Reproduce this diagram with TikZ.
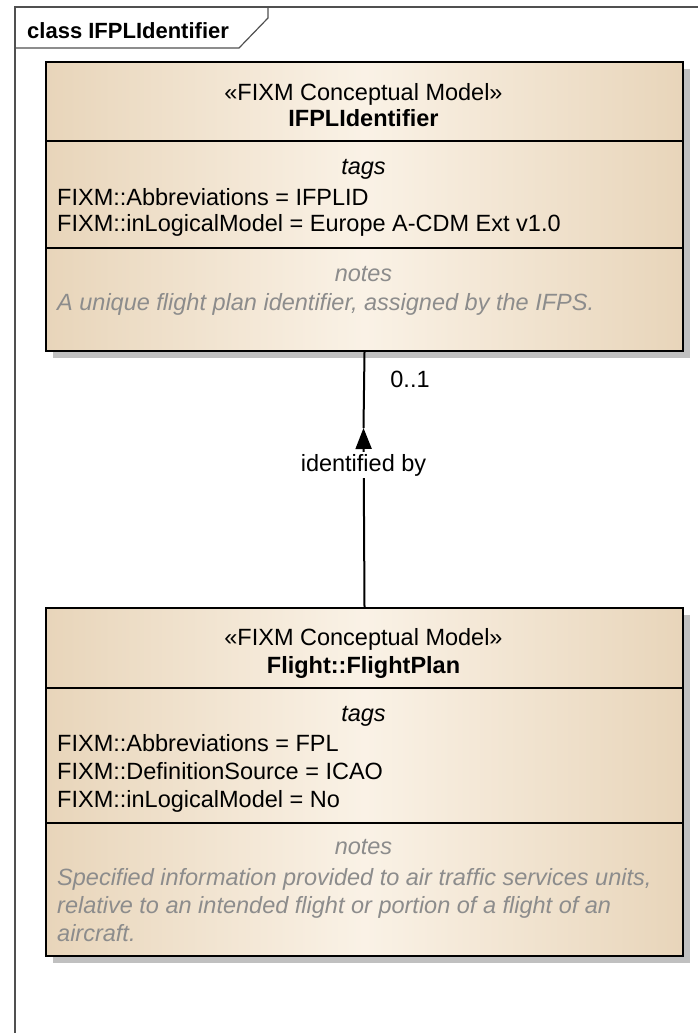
\documentclass[tikz,border=0pt]{standalone}
\usepackage{fontspec}
\setmainfont{Liberation Sans}
\usetikzlibrary{arrows.meta, shadows}

\definecolor{boxtan}{RGB}{232,213,186}
\definecolor{boxcream}{RGB}{250,242,230}
\definecolor{shadowgray}{RGB}{192,192,192}
\definecolor{notegray}{RGB}{140,140,140}
\definecolor{framegray}{RGB}{80,80,80}

\newcommand{\umlfont}{\fontsize{23.5bp}{28bp}\selectfont}

\begin{document}
\begin{tikzpicture}[x=1bp,y=-1bp,
    classbox/.style={draw=black, line width=2bp, inner sep=0pt, anchor=north west,
      minimum width=637bp, left color=boxtan, right color=boxtan, middle color=boxcream,
      drop shadow={shadow xshift=7bp, shadow yshift=-7bp, fill=shadowgray, opacity=1}},
    sep/.style={line width=1.6bp},
    txt/.style={anchor=base, inner sep=0pt, font=\umlfont},
    tagline/.style={txt, anchor=base west},
    notetxt/.style={tagline, text=notegray, font=\umlfont\itshape},
    assoc/.style={line width=2bp}]
      \useasboundingbox (0,0) rectangle (698,1033);
      % frame
      \draw[framegray, line width=1.6bp] (698,7) -- (15,7) -- (15,1033);
      \draw[framegray, line width=1.2bp] (15,48) -- (239,48) -- (268,18) -- (268,7);
      \node[anchor=base west, inner sep=0pt, font=\fontsize{22bp}{26bp}\selectfont\bfseries] (title) at (27,38) {class IFPLIdentifier};
      % IFPLIdentifier class
      \node[classbox, minimum height=289bp] (ifpl) at (45,61) {};
      \draw[sep] (45,141) -- (682,141);
      \draw[sep] (45,248) -- (682,248);
      \node[txt] (ifplster) at (363.5,100) {«FIXM Conceptual Model»};
      \node[txt, font=\umlfont\bfseries] (ifplname) at (363.5,126) {IFPLIdentifier};
      \node[txt, font=\umlfont\itshape] (ifpltags) at (363.5,174) {tags};
      \node[tagline] (ifpltag1) at (57,205) {FIXM::Abbreviations = IFPLID};
      \node[tagline] (ifpltag2) at (57,231) {FIXM::inLogicalModel = Europe A-CDM Ext v1.0};
      \node[txt, text=notegray, font=\umlfont\itshape] (ifplnotes) at (363.5,281) {notes};
      \node[notetxt] (ifplnote1) at (57,310) {A unique flight plan identifier, assigned by the IFPS.};
      % FlightPlan class
      \node[classbox, minimum height=348bp] (fpl) at (45,607) {};
      \draw[sep] (45,688) -- (682,688);
      \draw[sep] (45,823) -- (682,823);
      \node[txt] (fplster) at (363.5,645) {«FIXM Conceptual Model»};
      \node[txt, font=\umlfont\bfseries] (fplname) at (363.5,673) {Flight::FlightPlan};
      \node[txt, font=\umlfont\itshape] (fpltags) at (363.5,721) {tags};
      \node[tagline] (fpltag1) at (57,751) {FIXM::Abbreviations = FPL};
      \node[tagline] (fpltag2) at (57,779) {FIXM::DefinitionSource = ICAO};
      \node[tagline] (fpltag3) at (57,807) {FIXM::inLogicalModel = No};
      \node[txt, text=notegray, font=\umlfont\itshape] (fplnotes) at (363.5,854) {notes};
      \node[notetxt] (fplnote1) at (57,885) {Specified information provided to air traffic services units,};
      \node[notetxt] (fplnote2) at (57,913) {relative to an intended flight or portion of a flight of an};
      \node[notetxt] (fplnote3) at (57,941) {aircraft.};
      % association
      \coordinate (tip) at (363.5,428);
      \draw[assoc, -{Triangle[length=21bp,width=16bp]}] (fpl.north) -- (tip);
      \draw[assoc] (tip) -- (ifpl.south);
      \node[txt, fill=white, inner sep=2bp] (assoclabel) at (363.5,471) {identified by};
      \node[txt] (mult) at (410,387) {0..1};
    \end{tikzpicture}
\end{document}
